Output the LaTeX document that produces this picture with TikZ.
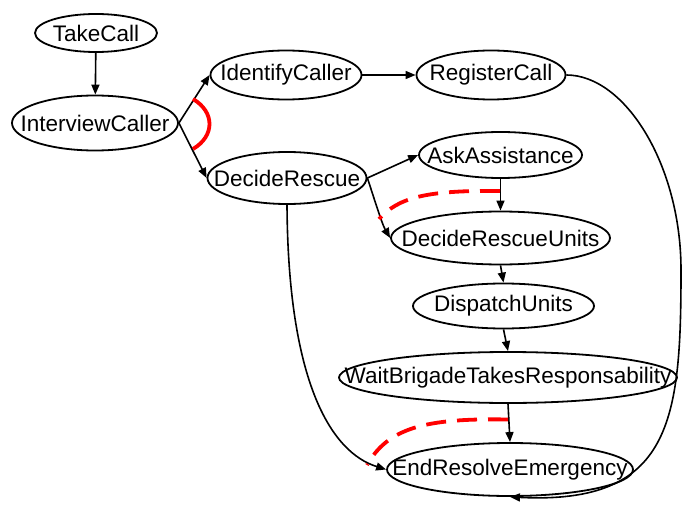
\documentclass[tikz,border=0pt]{standalone}
\usepackage{fontspec}
\setmainfont{Liberation Sans}
\usetikzlibrary{shapes.geometric,arrows.meta}
\newcommand\lbl[1]{\makebox[0pt]{#1}}
\begin{document}
\begin{tikzpicture}[x=1pt,y=-1pt,
  state/.style={draw,ellipse,line width=1.8pt,inner sep=0pt,font=\fontsize{22.5}{26}\selectfont},
  flow/.style={line width=1.6pt,-{Triangle[length=10pt,width=8pt]}},
  choice/.style={red,line width=3.8pt},
  seqdash/.style={red,line width=3.8pt,dash pattern=on 20pt off 11pt}]
\useasboundingbox (0,0) rectangle (682,505);
\node[state,minimum width=122pt,minimum height=38pt] (tc) at (96,33) {\lbl{TakeCall}};
\node[state,minimum width=166pt,minimum height=55pt] (ic) at (95,123) {\lbl{InterviewCaller}};
\node[state,minimum width=151pt,minimum height=49pt] (idc) at (286,75) {\lbl{IdentifyCaller}};
\node[state,minimum width=149pt,minimum height=49pt] (rc) at (491,75) {\lbl{RegisterCall}};
\node[state,minimum width=159pt,minimum height=52pt] (dr) at (287,178) {\lbl{DecideRescue}};
\node[state,minimum width=163pt,minimum height=46pt] (ask) at (500.5,155) {\lbl{AskAssistance}};
\node[state,minimum width=219pt,minimum height=53pt] (dru) at (500.5,238) {\lbl{DecideRescueUnits}};
\node[state,minimum width=181pt,minimum height=45pt] (dis) at (503.5,306) {\lbl{DispatchUnits}};
\node[state,minimum width=338pt,minimum height=51pt] (wait) at (508,377.5) {\lbl{WaitBrigadeTakesResponsability}};
\node[state,minimum width=246pt,minimum height=53pt] (end) at (510,469.5) {\lbl{EndResolveEmergency}};

\draw[flow] (tc) -- (ic);
\draw[flow] (ic.east) -- (idc.west);
\draw[flow] (ic.east) -- (dr.west);
\draw[flow] (idc.east) -- (rc.west);
\draw[flow] (rc.east) .. controls (625,75) and (681,165) .. (681,270)
  .. controls (681,420) and (672,505) .. (end.south);
\draw[flow] (dr.east) -- (ask.west);
\draw[flow] (dr.east) .. controls (374,198) and (382,224) .. (dru.west);
\draw[flow] (ask.south) -- (dru.north);
\draw[flow] (dru.south) -- (dis.north);
\draw[flow] (dis.south) -- (wait.north);
\draw[flow] (wait.south) -- (end.north);
\draw[flow] (dr.south) .. controls (288,380) and (330,452) .. (end.west);

\draw[choice] (193,99) .. controls (215,112) and (215,136) .. (193,149);
\draw[seqdash] (500,191) .. controls (425,190) and (398,198) .. (379,219);
\draw[seqdash] (508,419.5) .. controls (425,418) and (388,428) .. (367,465);
\end{tikzpicture}
\end{document}
